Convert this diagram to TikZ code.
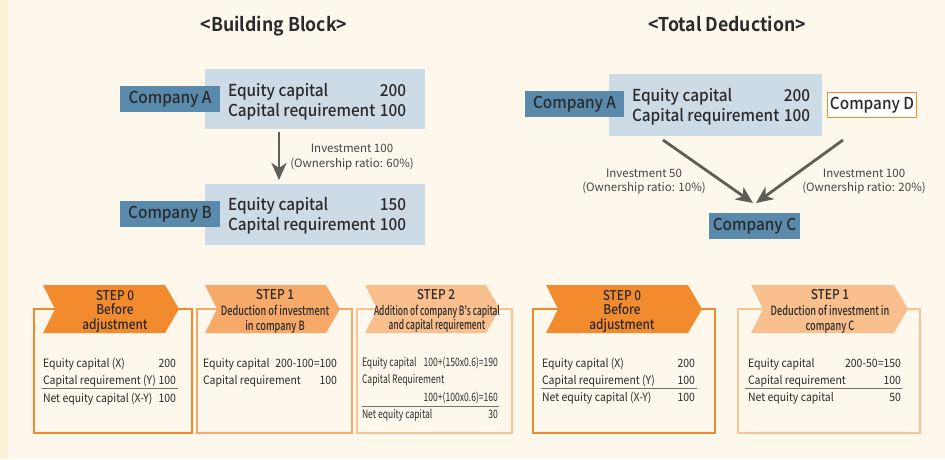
\documentclass[tikz,border=0pt]{standalone}
\usepackage{fontspec}
\setmainfont{Noto Sans CJK KR}[BoldFont={Noto Sans CJK KR Bold}]
\IfFontExistsTF{Noto Sans CJK KR Medium}{%
  \newfontfamily\medfont[FakeStretch=0.93]{Noto Sans CJK KR Medium}%
  \newfontfamily\medstep[FakeStretch=0.88]{Noto Sans CJK KR Medium}%
  \newfontfamily\condfont[FakeStretch=0.72]{Noto Sans CJK KR Medium}%
  \newfontfamily\ccondfont[FakeStretch=0.655]{Noto Sans CJK KR Medium}%
}{%
  \newfontfamily\medfont[FakeStretch=0.93]{Noto Sans CJK KR}%
  \newfontfamily\medstep[FakeStretch=0.88,FakeBold=1]{Noto Sans CJK KR}%
  \newfontfamily\condfont[FakeStretch=0.72]{Noto Sans CJK KR}%
  \newfontfamily\ccondfont[FakeStretch=0.655]{Noto Sans CJK KR}%
}
\newfontfamily\titlefont[FakeStretch=0.93]{Noto Sans CJK KR Bold}
\newfontfamily\bodyfont[FakeStretch=0.91]{Noto Sans CJK KR}
\newfontfamily\bcondfont[FakeStretch=0.74]{Noto Sans CJK KR}
\usetikzlibrary{arrows.meta}
\definecolor{bg}{HTML}{FEF8EC}
\definecolor{strip}{HTML}{FDF0D6}
\definecolor{txt}{HTML}{2A2A2A}
\definecolor{small}{HTML}{444444}
\definecolor{lblue}{HTML}{5A8AAB}
\definecolor{infobg}{HTML}{CDDBE6}
\definecolor{arrgray}{HTML}{5E5E57}
\definecolor{ora0}{HTML}{F28B2D}
\definecolor{ora1}{HTML}{F6A968}
\definecolor{ora2}{HTML}{F9BF8F}
\definecolor{fra0}{HTML}{F08A2E}
\definecolor{fra1}{HTML}{F5AA6C}
\definecolor{fra2}{HTML}{F8C496}
\definecolor{rulegray}{HTML}{707070}
\newcommand\bannershape[3]{%
  \fill[#3] (#1,285) -- (#2-14,285) -- (#2,309) -- (#2-14,333) -- (#1,333) -- (#1+12,309) -- cycle;}
\tikzset{
  titletext/.style={font=\fontsize{19}{22}\selectfont\titlefont, anchor=base},
  infobox/.style={fill=infobg, anchor=north west},
  clabel/.style={fill=lblue, minimum width=100, minimum height=26, font=\fontsize{16.5}{19}\selectfont\medfont, text=txt},
  infotext/.style={font=\fontsize{16.5}{19}\selectfont\medfont},
  smalltext/.style={font=\fontsize{11.5}{14}\selectfont, text=small, anchor=base},
  arr/.style={draw=arrgray, line width=2.8pt, -{Stealth[length=17pt,width=15pt,inset=5pt]}},
  frameline/.style={line width=2.4pt},
  steptitle/.style={font=\fontsize{13.5}{14}\selectfont\medstep, anchor=base},
  stepsub/.style={font=\fontsize{12.8}{14}\selectfont\condfont, anchor=base},
  stepsubc/.style={font=\fontsize{12.8}{14}\selectfont\ccondfont, anchor=base},
  body/.style={font=\fontsize{11.5}{14}\selectfont\bodyfont},
  bodyc/.style={font=\fontsize{11.6}{14}\selectfont\bcondfont},
  sepline/.style={draw=rulegray, line width=0.9pt}
}
\begin{document}
\begin{tikzpicture}[x=1pt,y=-1pt, every node/.style={inner sep=0pt, outer sep=0pt, text=txt}]
\useasboundingbox (0,0) rectangle (945,459);
\fill[bg] (0,0) rectangle (945,459);
\fill[strip] (0,0) rectangle (8,459);

% ---------- titles
\node[titletext] (t1) at (274,31) {<Building Block>};
\node[titletext] (t2) at (727,31) {<Total Deduction>};

% ---------- Building block
\node[infobox, minimum width=220, minimum height=60] (ia) at (205,69) {};
\node[infobox, minimum width=220, minimum height=61] (ib) at (205,184) {};
\node[clabel] (ca) at (170,99) {Company A};
\node[clabel] (cb) at (170,214) {Company B};
\node[infotext, anchor=base west] (ia1) at (228,96) {Equity capital};
\node[infotext, anchor=base east] (ia2) at (406,96) {200};
\node[infotext, anchor=base west] (ia3) at (228,116) {Capital requirement};
\node[infotext, anchor=base east] (ia4) at (406,116) {100};
\node[infotext, anchor=base west] (ib1) at (228,210) {Equity capital};
\node[infotext, anchor=base east] (ib2) at (406,210) {150};
\node[infotext, anchor=base west] (ib3) at (228,230) {Capital requirement};
\node[infotext, anchor=base east] (ib4) at (406,230) {100};
\draw[arr] ([xshift=74pt,yshift=-3pt]ia.south west) -- ([xshift=74pt,yshift=4pt]ib.north west);
\node[smalltext] (la1) at (352,152) {Investment 100};
\node[smalltext] (la2) at (352,167) {(Ownership ratio: 60\%)};

% ---------- Total deduction
\node[infobox, minimum width=213, minimum height=62] (ta) at (609,74) {};
\node[clabel, minimum width=99] (tca) at (574.5,104) {Company A};
\node[infotext, anchor=base west] (ta1) at (632,101) {Equity capital};
\node[infotext, anchor=base east] (ta2) at (810,101) {200};
\node[infotext, anchor=base west] (ta3) at (632,121) {Capital requirement};
\node[infotext, anchor=base east] (ta4) at (810,121) {100};
\node[draw=fra0, line width=1.5pt, fill=white, minimum width=89, minimum height=25, font=\fontsize{16.5}{19}\selectfont\medfont] (cd) at (872,105) {Company D};
\node[clabel, minimum width=91] (cc) at (754.5,226) {Company C};
\coordinate (sL) at (663,140);
\coordinate (sR) at (843,140);
\coordinate (eL) at (753,203);
\coordinate (eR) at (756,203);
\draw[arr] (sL) -- (eL);
\draw[arr] (sR) -- (eR);
\node[smalltext] (lb1) at (644,177) {Investment 50};
\node[smalltext] (lb2) at (644,191) {(Ownership ratio: 10\%)};
\node[smalltext] (lc1) at (864,177) {Investment 100};
\node[smalltext] (lc2) at (864,191) {(Ownership ratio: 20\%)};

% ---------- frames
\draw[frameline, draw=fra0] (34,309) rectangle (192,433);
\draw[frameline, draw=fra1] (197,309) rectangle (352,433);
\draw[frameline, draw=fra2] (357,309) rectangle (512,433);
\draw[frameline, draw=fra0] (533,309) rectangle (715,433);
\draw[frameline, draw=fra2] (738,309) rectangle (920,433);

% ---------- banners
\bannershape{43}{179}{ora0}
\bannershape{205}{340}{ora1}
\bannershape{365}{500}{ora2}
\bannershape{546}{702}{ora0}
\bannershape{751}{908}{ora2}

% step 0 left
\node[steptitle] (s0a) at (115,300) {STEP 0};
\node[steptitle] (s0b) at (115,314.5) {Before};
\node[steptitle] (s0c) at (115,329) {adjustment};
\node[body, anchor=base west] (b0a) at (43,367) {Equity capital (X)};
\node[body, anchor=base east] (b0b) at (176,367) {200};
\node[body, anchor=base west] (b0c) at (43,384) {Capital requirement (Y)};
\node[body, anchor=base east] (b0d) at (176,384) {100};
\draw[sepline] (42,388) -- (178,388);
\node[body, anchor=base west] (b0e) at (43,402) {Net equity capital (X-Y)};
\node[body, anchor=base east] (b0f) at (176,402) {100};

% step 1 left
\node[steptitle] (s1a) at (275,299) {STEP 1};
\node[stepsub] (s1b) at (275,315) {Deduction of investment};
\node[stepsub] (s1c) at (275,330) {in company B};
\node[body, anchor=base west] (b1a) at (203,367) {Equity capital};
\node[body, anchor=base east] (b1b) at (337,367) {200-100=100};
\node[body, anchor=base west] (b1c) at (203,384) {Capital requirement};
\node[body, anchor=base east] (b1d) at (337,384) {100};

% step 2 left
\node[steptitle] (s2a) at (436,299) {STEP 2};
\node[stepsubc] (s2b) at (437,315) {Addition of company B's capital};
\node[stepsubc] (s2c) at (437,329) {and capital requirement};
\node[bodyc, anchor=base west] (b2a) at (362,366) {Equity capital};
\node[bodyc, anchor=base east] (b2b) at (498,366) {100+(150x0.6)=190};
\node[bodyc, anchor=base west] (b2c) at (362,383) {Capital Requirement};
\node[bodyc, anchor=base east] (b2d) at (498,401) {100+(100x0.6)=160};
\draw[sepline] (362,406) -- (499,406);
\node[bodyc, anchor=base west] (b2e) at (362,418) {Net equity capital};
\node[bodyc, anchor=base east] (b2f) at (498,418) {30};

% step 0 right
\node[steptitle] (r0a) at (622,300) {STEP 0};
\node[steptitle] (r0b) at (622,314.5) {Before};
\node[steptitle] (r0c) at (622,329) {adjustment};
\node[body, anchor=base west] (rb0a) at (542,367) {Equity capital (X)};
\node[body, anchor=base east] (rb0b) at (695,367) {200};
\node[body, anchor=base west] (rb0c) at (542,384) {Capital requirement (Y)};
\node[body, anchor=base east] (rb0d) at (695,384) {100};
\draw[sepline] (541,388) -- (697,388);
\node[body, anchor=base west] (rb0e) at (542,401) {Net equity capital (X-Y)};
\node[body, anchor=base east] (rb0f) at (695,401) {100};

% step 1 right
\node[steptitle] (r1a) at (830,299) {STEP 1};
\node[stepsub] (r1b) at (830,315) {Deduction of investment in};
\node[stepsub] (r1c) at (830,330) {company C};
\node[body, anchor=base west] (rb1a) at (748,367) {Equity capital};
\node[body, anchor=base east] (rb1b) at (901,367) {200-50=150};
\node[body, anchor=base west] (rb1c) at (748,384) {Capital requirement};
\node[body, anchor=base east] (rb1d) at (901,384) {100};
\draw[sepline] (745,388) -- (902,388);
\node[body, anchor=base west] (rb1e) at (748,401) {Net equity capital};
\node[body, anchor=base east] (rb1f) at (901,401) {50};
\end{tikzpicture}
\end{document}
